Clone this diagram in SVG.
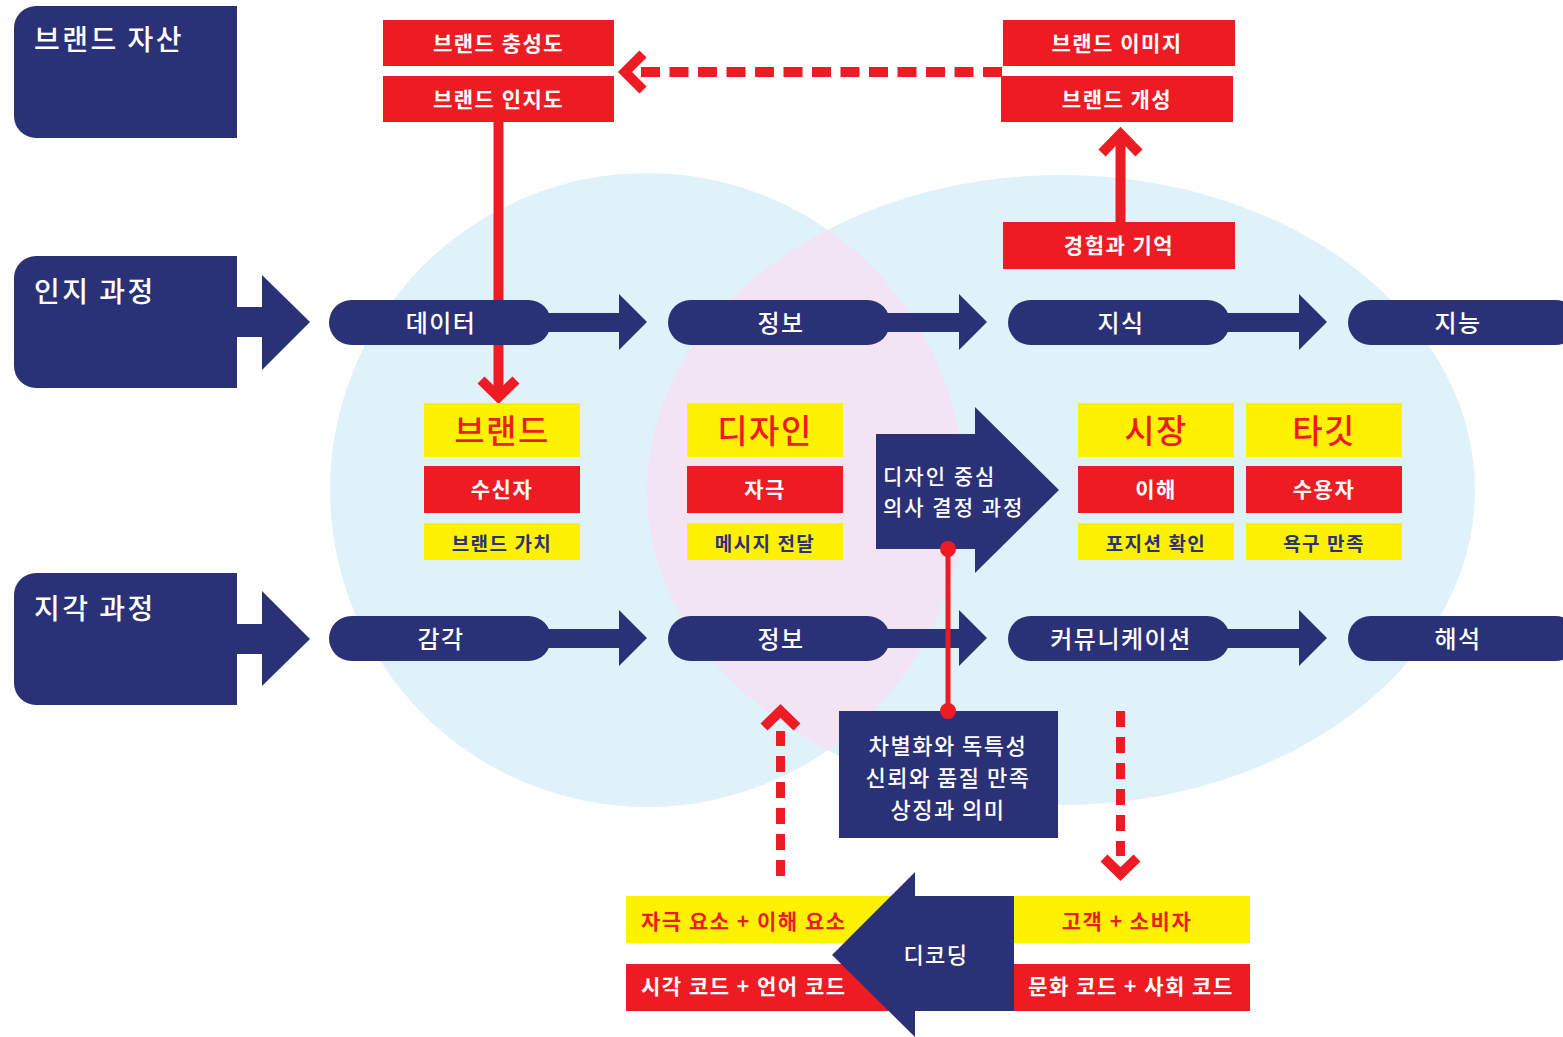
<svg xmlns="http://www.w3.org/2000/svg" width="1563" height="1037" viewBox="0 0 1563 1037">
<defs>
<style>
text{font-family:"Noto Sans CJK KR","Noto Sans",sans-serif;letter-spacing:1.5px}
.navy{fill:#2b3176}
.red{fill:#ed1c24}
.yel{fill:#fff200}
.wt{fill:#ffffff}
.big{font-size:28px;font-weight:500;letter-spacing:2.5px}
.pill{font-size:24px;font-weight:500;fill:#fff;text-anchor:middle}
.rb{font-size:21px;font-weight:700;fill:#fff;text-anchor:middle}
.ttl{font-size:33px;font-weight:500;fill:#ed1c24;text-anchor:middle}
.sub{font-size:19px;font-weight:700;fill:#2b3176;text-anchor:middle}
.mid{font-size:22px;font-weight:500;fill:#fff}
.solid{stroke:#ed1c24;stroke-width:10;fill:none}
.chev{stroke:#ed1c24;stroke-width:10;fill:none;stroke-linejoin:miter}
</style>
<clipPath id="lc"><circle cx="647" cy="490" r="317"/></clipPath>
</defs>
<g id="background">
<circle cx="647" cy="490" r="317" fill="#dff2fa"/>
<ellipse cx="1061" cy="490" rx="414" ry="315" fill="#dff2fa"/>
<ellipse cx="1061" cy="490" rx="414" ry="315" fill="#f2e4f3" clip-path="url(#lc)"/>
</g>
<g id="connectors">
<g class="navy">
<rect x="237" y="307" width="26" height="30"/><polygon points="262,275 310,322 262,370"/>
<rect x="237" y="624" width="26" height="30"/><polygon points="262,591 310,639 262,686"/>
<rect x="530" y="313" width="90" height="19"/><polygon points="619,294 647,322 619,350"/>
<rect x="870" y="313" width="90" height="19"/><polygon points="959,294 987,322 959,350"/>
<rect x="1210" y="313" width="90" height="19"/><polygon points="1299,294 1327,322 1299,350"/>
<rect x="530" y="629" width="90" height="19"/><polygon points="619,610 647,638 619,666"/>
<rect x="870" y="629" width="90" height="19"/><polygon points="959,610 987,638 959,666"/>
<rect x="1210" y="629" width="90" height="19"/><polygon points="1299,610 1327,638 1299,666"/>
</g>
<line x1="498.5" y1="122" x2="498.5" y2="392" class="solid"/>
<polyline points="481,380 498.5,397 516,380" class="chev"/>
<line x1="1120.5" y1="222" x2="1120.5" y2="136" class="solid"/>
<polyline points="1102,153 1120.5,134 1139,153" class="chev"/>
<line x1="1002" y1="72" x2="640" y2="72" stroke="#ed1c24" stroke-width="10" stroke-dasharray="19 9.5"/>
<polyline points="643,54 625,72 643,90" class="chev"/>
<line x1="780.5" y1="876" x2="780.5" y2="731" stroke="#ed1c24" stroke-width="9" stroke-dasharray="16 10"/>
<polyline points="764,727 780.5,711 797,727" class="chev"/>
<line x1="1120.5" y1="711" x2="1120.5" y2="856" stroke="#ed1c24" stroke-width="9" stroke-dasharray="16 10"/>
<polyline points="1104,858 1120.5,874 1137,858" class="chev"/>
<line x1="948" y1="549" x2="948" y2="711" stroke="#ed1c24" stroke-width="5"/>
</g>
<g id="asset">
<path class="navy" d="M36,6 H237 V138 H36 A22,22 0 0 1 14,116 V28 A22,22 0 0 1 36,6 Z"/>
<text x="34" y="50" class="big wt">브랜드 자산</text>
</g>
<g id="cognition">
<path class="navy" d="M36,256 H237 V388 H36 A22,22 0 0 1 14,366 V278 A22,22 0 0 1 36,256 Z"/>
<text x="34" y="302" class="big wt">인지 과정</text>
</g>
<g id="perception">
<path class="navy" d="M36,573 H237 V705 H36 A22,22 0 0 1 14,683 V595 A22,22 0 0 1 36,573 Z"/>
<text x="34" y="619" class="big wt">지각 과정</text>
</g>
<g id="p-data"><rect class="navy" x="329" y="300" width="222" height="45" rx="22.5"/><text x="441" y="332" class="pill">데이터</text></g>
<g id="p-info1"><rect class="navy" x="668" y="300" width="222" height="45" rx="22.5"/><text x="781" y="332" class="pill">정보</text></g>
<g id="p-know"><rect class="navy" x="1008" y="300" width="222" height="45" rx="22.5"/><text x="1121" y="332" class="pill">지식</text></g>
<g id="p-intel"><rect class="navy" x="1348" y="300" width="230" height="45" rx="22.5"/><text x="1458" y="332" class="pill">지능</text></g>
<g id="p-sense"><rect class="navy" x="329" y="616" width="222" height="45" rx="22.5"/><text x="441" y="648" class="pill">감각</text></g>
<g id="p-info2"><rect class="navy" x="668" y="616" width="222" height="45" rx="22.5"/><text x="781" y="648" class="pill">정보</text></g>
<g id="p-comm"><rect class="navy" x="1008" y="616" width="222" height="45" rx="22.5"/><text x="1121" y="648" class="pill">커뮤니케이션</text></g>
<g id="p-interp"><rect class="navy" x="1348" y="616" width="230" height="45" rx="22.5"/><text x="1458" y="648" class="pill">해석</text></g>
<g id="loyalty"><rect class="red" x="383" y="20" width="231" height="46"/><text x="498.5" y="51" class="rb">브랜드 충성도</text></g>
<g id="awareness"><rect class="red" x="383" y="76" width="231" height="46"/><text x="498.5" y="107" class="rb">브랜드 인지도</text></g>
<g id="image"><rect class="red" x="1003" y="20" width="232" height="46"/><text x="1117" y="51" class="rb">브랜드 이미지</text></g>
<g id="personality"><rect class="red" x="1001" y="76" width="232" height="46"/><text x="1117" y="107" class="rb">브랜드 개성</text></g>
<g id="experience"><rect class="red" x="1003" y="222" width="232" height="47"/><text x="1119" y="253" class="rb">경험과 기억</text></g>
<g id="brand">
<rect class="yel" x="424" y="403" width="156" height="54"/><text x="502" y="443" class="ttl">브랜드</text>
<rect class="red" x="424" y="466" width="156" height="47"/><text x="502" y="497" class="rb">수신자</text>
<rect class="yel" x="424" y="523" width="156" height="37"/><text x="502" y="551" class="sub">브랜드 가치</text>
</g>
<g id="design">
<rect class="yel" x="687" y="403" width="156" height="54"/><text x="765" y="443" class="ttl">디자인</text>
<rect class="red" x="687" y="466" width="156" height="47"/><text x="765" y="497" class="rb">자극</text>
<rect class="yel" x="687" y="523" width="156" height="37"/><text x="765" y="551" class="sub">메시지 전달</text>
</g>
<g id="market">
<rect class="yel" x="1078" y="403" width="156" height="54"/><text x="1156" y="443" class="ttl">시장</text>
<rect class="red" x="1078" y="466" width="156" height="47"/><text x="1156" y="497" class="rb">이해</text>
<rect class="yel" x="1078" y="523" width="156" height="37"/><text x="1156" y="551" class="sub">포지션 확인</text>
</g>
<g id="target">
<rect class="yel" x="1246" y="403" width="156" height="54"/><text x="1324" y="443" class="ttl">타깃</text>
<rect class="red" x="1246" y="466" width="156" height="47"/><text x="1324" y="497" class="rb">수용자</text>
<rect class="yel" x="1246" y="523" width="156" height="37"/><text x="1324" y="551" class="sub">욕구 만족</text>
</g>
<g id="decision">
<polygon class="navy" points="876,434 975,434 975,407 1059,490 975,573 975,549 876,549"/>
<text x="883" y="484" class="mid" style="font-size:21px;letter-spacing:2px">디자인 중심</text>
<text x="883" y="515" class="mid" style="font-size:21px;letter-spacing:2px">의사 결정 과정</text>
<circle cx="948" cy="549" r="8" class="red"/>
</g>
<g id="values">
<rect class="navy" x="839" y="711" width="219" height="127"/>
<circle cx="948" cy="711" r="8" class="red"/>
<text x="948" y="754" class="mid" text-anchor="middle">차별화와 독특성</text>
<text x="948" y="786" class="mid" text-anchor="middle">신뢰와 품질 만족</text>
<text x="948" y="818" class="mid" text-anchor="middle">상징과 의미</text>
</g>
<g id="elements"><rect class="yel" x="626" y="896" width="300" height="47"/><text x="641" y="929" font-size="21" font-weight="700" fill="#ed1c24">자극 요소 + 이해 요소</text></g>
<g id="codes"><rect class="red" x="626" y="964" width="300" height="47"/><text x="641" y="994" font-size="21" font-weight="700" fill="#fff">시각 코드 + 언어 코드</text></g>
<g id="customer"><rect class="yel" x="1014" y="896" width="236" height="47"/><text x="1127" y="929" font-size="21" font-weight="700" fill="#ed1c24" text-anchor="middle">고객 + 소비자</text></g>
<g id="culture"><rect class="red" x="1014" y="964" width="236" height="47"/><text x="1131" y="994" font-size="21" font-weight="700" fill="#fff" text-anchor="middle">문화 코드 + 사회 코드</text></g>
<g id="decoding">
<polygon class="navy" points="1014,896 1014,1011 915,1011 915,1037 832,955 915,872 915,896"/>
<text x="936" y="963" class="mid" text-anchor="middle" font-size="23">디코딩</text>
</g>
</svg>
